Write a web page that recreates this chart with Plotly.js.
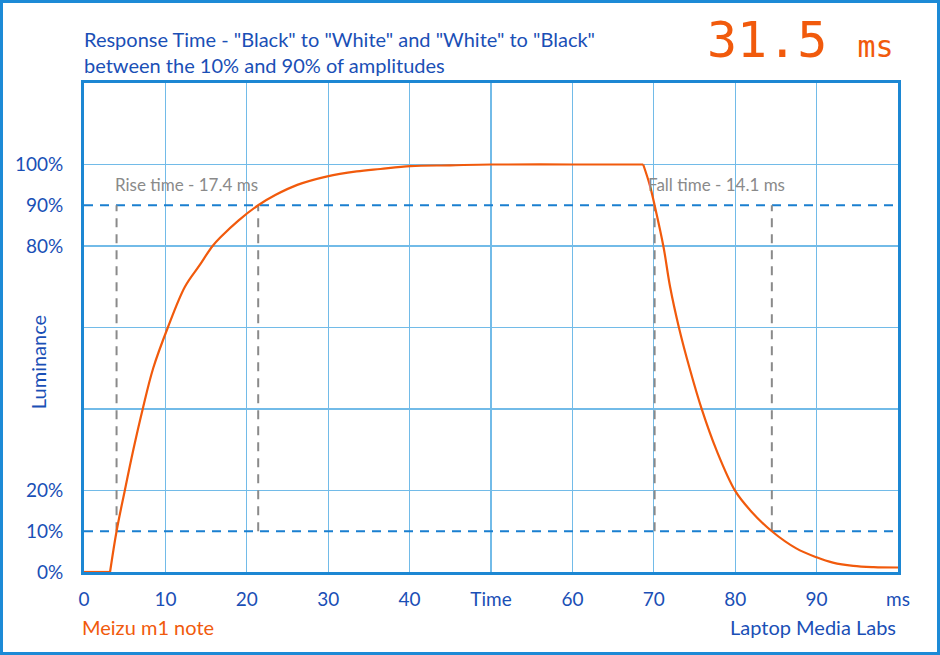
<!DOCTYPE html>
<html>
<head>
<meta charset="utf-8">
<script src="https://cdn.plot.ly/plotly-3.0.1.min.js"></script>
<style>
  html, body { margin: 0; padding: 0; background: #ffffff; }
  #wrap { position: relative; width: 940px; height: 655px; }
  #chart { width: 940px; height: 655px; }
  #frame { position: absolute; left: 0; top: 0; width: 940px; height: 655px; box-sizing: border-box;
           border: 3px solid #1c8ad6; pointer-events: none; }
</style>
</head>
<body>
<div id="wrap"><div id="chart"></div><div id="frame"></div></div>
<script>
// Luminance response curve (time in ms, luminance in %)
const timeMs = [0, 3.2, 4.0, 5.0, 6.06, 7.2, 8.5, 10.3, 12.4, 14.1, 15.8, 16.8, 19.0, 21.4, 23.5, 26.2, 29.9, 33.5, 36.4, 40.1, 45, 50, 60, 68.7,
                69.5, 70.1, 71.2, 72.0, 73.1, 74.4, 75.9, 77.7, 80.0, 82.0, 84.5, 87.5, 90.0, 92.0, 94.5, 97, 100];
const luminance = [0, 0, 10, 19.9, 30, 39.9, 50, 60, 70, 75, 80, 82.2, 86.3, 90, 92.5, 95, 97.1, 98.3, 98.9, 99.6, 99.8, 100, 100, 100,
                   95, 90, 79.7, 70, 59.9, 50, 39.9, 29.9, 19.9, 14.8, 10, 5.8, 3.6, 2.3, 1.5, 1.2, 1.1];

// 10% / 90% thresholds
const thresholdLevels = [10, 90];
const xRange = [0, 100];

// Measurement markers
const riseStart = 4.0, riseEnd = 21.4;
const fallStart = 70.1, fallEnd = 84.5;
const riseLabel = 'Rise time - 17.4 ms';
const fallLabel = 'Fall time - 14.1 ms';
const totalLabel = '31.5';

// Axis labels
const xTickVals = [0, 10, 20, 30, 40, 50, 60, 70, 80, 90, 100];
const xTickText = ['0', '10', '20', '30', '40', 'Time', '60', '70', '80', '90', 'ms'];
const yTickVals = [0, 10, 20, 80, 90, 100];
const yTickText = ['0%', '10%', '20%', '80%', '90%', '100%'];
const yGridVals = [20, 40, 60, 80, 100];

const BLUE_TXT = '#1a4fb6';
const ORANGE = '#f15a0c';
const GRID = '#72bbe8';
const BORDER = '#1c87d3';
const DASHBLUE = '#1a7fd0';
const GRAY = '#8a8a8a';
const FONT = 'Lato, "Open Sans", sans-serif';

const traces = [];
thresholdLevels.forEach(lv => {
  traces.push({x: xRange, y: [lv, lv], mode: 'lines', hoverinfo: 'skip', showlegend: false,
               line: {color: DASHBLUE, width: 2, dash: '9px,7px'}});
});
[riseStart, riseEnd, fallStart, fallEnd].forEach(xv => {
  traces.push({x: [xv, xv], y: thresholdLevels, mode: 'lines', hoverinfo: 'skip', showlegend: false,
               line: {color: GRAY, width: 2, dash: '9px,7px'}});
});
// curve drawn in pieces so the smoothing does not overshoot at the sharp corners
const riseBegin = timeMs.indexOf(3.2);
const fallBegin = timeMs.indexOf(68.7);
const pieces = [
  [0, riseBegin, 'linear'],
  [riseBegin, fallBegin, 'spline'],
  [fallBegin, timeMs.length - 1, 'spline']
];
pieces.forEach(([a, b, shp]) => {
  traces.push({x: timeMs.slice(a, b + 1), y: luminance.slice(a, b + 1), mode: 'lines', showlegend: false,
               line: {color: ORANGE, width: 2.2, shape: shp, smoothing: 1.0}});
});

const layout = {
  width: 940, height: 655,
  margin: {l: 84, r: 42, t: 83, b: 83},
  paper_bgcolor: '#ffffff', plot_bgcolor: '#ffffff',
  showlegend: false,
  font: {family: FONT, color: BLUE_TXT},
  title: {
    text: 'Response Time - "Black" to "White" and "White" to "Black"<br>between the 10% and 90% of amplitudes',
    x: 84 / 940, xanchor: 'left', xref: 'container',
    y: 1 - 47 / 655, yanchor: 'middle', yref: 'container',
    font: {family: FONT, size: 20, color: BLUE_TXT}
  },
  xaxis: {
    range: xRange, tickvals: xTickVals, ticktext: xTickText,
    showgrid: true, gridcolor: GRID, gridwidth: 1.2,
    zeroline: false, showline: true, mirror: true, linecolor: BORDER, linewidth: 3,
    ticks: 'outside', ticklen: 8, tickcolor: 'rgba(0,0,0,0)',
    tickfont: {family: FONT, size: 19, color: BLUE_TXT}, fixedrange: true
  },
  yaxis: {
    range: [0, 120], tickvals: yTickVals, ticktext: yTickText,
    showgrid: false, zeroline: false, showline: true, mirror: true, linecolor: BORDER, linewidth: 3,
    minor: {tickvals: yGridVals, showgrid: true, gridcolor: GRID, gridwidth: 1.2, ticks: ''},
    ticks: 'outside', ticklen: 14, tickcolor: 'rgba(0,0,0,0)',
    tickfont: {family: FONT, size: 19, color: BLUE_TXT}, fixedrange: true
  },
  annotations: [
    {text: riseLabel, x: 3.6, y: 95.2, xref: 'x', yref: 'y', xanchor: 'left', yanchor: 'middle',
     showarrow: false, font: {family: FONT, size: 17, color: GRAY}},
    {text: fallLabel, x: 69.0, y: 95.2, xref: 'x', yref: 'y', xanchor: 'left', yanchor: 'middle',
     showarrow: false, font: {family: FONT, size: 17, color: GRAY}},
    {text: 'Luminance', textangle: -90, x: (38 - 84) / 814, y: 51.5, xref: 'paper', yref: 'y',
     xanchor: 'center', yanchor: 'middle', showarrow: false, font: {family: FONT, size: 20, color: BLUE_TXT}},
    {text: 'Meizu m1 note', x: -4 / 814, y: -55 / 489, xref: 'paper', yref: 'paper',
     xanchor: 'left', yanchor: 'middle', showarrow: false, font: {family: FONT, size: 20, color: ORANGE}},
    {text: 'Laptop Media Labs', x: 1, y: -55 / 489, xref: 'paper', yref: 'paper',
     xanchor: 'right', yanchor: 'middle', showarrow: false, font: {family: FONT, size: 20, color: BLUE_TXT}},
    {text: totalLabel + ' <span style="font-size:30px">ms</span>', x: (896 - 84) / 814, y: (572 - 40) / 489,
     xref: 'paper', yref: 'paper', xanchor: 'right', yanchor: 'middle',
     showarrow: false, font: {family: '"DejaVu Sans Mono", monospace', size: 50, color: ORANGE}}
  ]
};

Plotly.newPlot('chart', traces, layout, {displayModeBar: false, staticPlot: true});
</script>
</body>
</html>
